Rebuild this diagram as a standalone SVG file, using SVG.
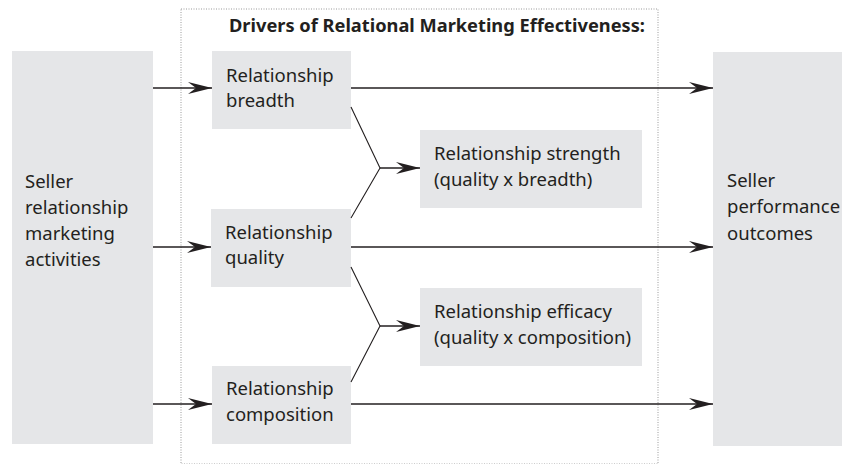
<svg xmlns="http://www.w3.org/2000/svg" width="842" height="464" viewBox="0 0 842 464">
<style>
.box{fill:#e5e6e8;stroke:none}
.t{font-family:"Noto Sans","Liberation Sans",sans-serif;font-size:18.5px;fill:#231f20}
.title{font-family:"Noto Sans","Liberation Sans",sans-serif;font-size:17.5px;font-weight:bold;fill:#231f20}
.ln{stroke:#231f20;stroke-width:1.6;fill:none}
.thin{stroke:#231f20;stroke-width:1.1;fill:none}
</style>
<defs>
<marker id="ah" markerUnits="userSpaceOnUse" markerWidth="24" markerHeight="12" refX="24" refY="6" orient="auto" viewBox="0 0 24 12">
<path d="M0,0 L24,6 L0,12 L8,6 Z" fill="#231f20"/>
</marker>
</defs>
<rect id="container" x="181" y="9" width="477" height="455" fill="none" stroke="#9a9a9a" stroke-width="1" stroke-dasharray="1,1.5"/>
<text class="title" x="229" y="32" textLength="416" lengthAdjust="spacingAndGlyphs">Drivers of Relational Marketing Effectiveness:</text>
<g id="activities">
<rect class="box" x="12" y="51" width="141" height="393"/>
<text class="t" x="25" y="188">Seller</text>
<text class="t" x="25" y="214">relationship</text>
<text class="t" x="25" y="240">marketing</text>
<text class="t" x="25" y="266">activities</text>
</g>
<g id="breadth">
<rect class="box" x="212" y="51" width="139" height="78"/>
<text class="t" x="226" y="82">Relationship</text>
<text class="t" x="226" y="107">breadth</text>
</g>
<g id="quality">
<rect class="box" x="211" y="209" width="140" height="78"/>
<text class="t" x="225" y="239">Relationship</text>
<text class="t" x="225" y="264">quality</text>
</g>
<g id="composition">
<rect class="box" x="212" y="366" width="139" height="78"/>
<text class="t" x="226" y="395">Relationship</text>
<text class="t" x="226" y="421">composition</text>
</g>
<g id="strength">
<rect class="box" x="420" y="130" width="222" height="78"/>
<text class="t" x="434" y="160">Relationship strength</text>
<text class="t" x="434" y="186">(quality x breadth)</text>
</g>
<g id="efficacy">
<rect class="box" x="420" y="288" width="222" height="78"/>
<text class="t" x="434" y="318">Relationship efficacy</text>
<text class="t" x="434" y="344">(quality x composition)</text>
</g>
<g id="outcomes">
<rect class="box" x="713" y="52" width="129" height="394"/>
<text class="t" x="727" y="187">Seller</text>
<text class="t" x="727" y="213">performance</text>
<text class="t" x="727" y="240">outcomes</text>
</g>
<g id="connectors">
<line class="ln" x1="153" y1="88" x2="212" y2="88" marker-end="url(#ah)"/>
<line class="ln" x1="153" y1="247" x2="211" y2="247" marker-end="url(#ah)"/>
<line class="ln" x1="153" y1="404" x2="212" y2="404" marker-end="url(#ah)"/>
<line class="ln" x1="351" y1="88" x2="713" y2="88" marker-end="url(#ah)"/>
<line class="ln" x1="351" y1="247" x2="713" y2="247" marker-end="url(#ah)"/>
<line class="ln" x1="351" y1="404" x2="713" y2="404" marker-end="url(#ah)"/>
<polyline class="thin" points="351,107 380,168 351,218"/>
<line class="ln" x1="380" y1="168" x2="420" y2="168" marker-end="url(#ah)"/>
<polyline class="thin" points="351,267 380,326 351,382"/>
<line class="ln" x1="380" y1="326" x2="420" y2="326" marker-end="url(#ah)"/>
</g>
</svg>
